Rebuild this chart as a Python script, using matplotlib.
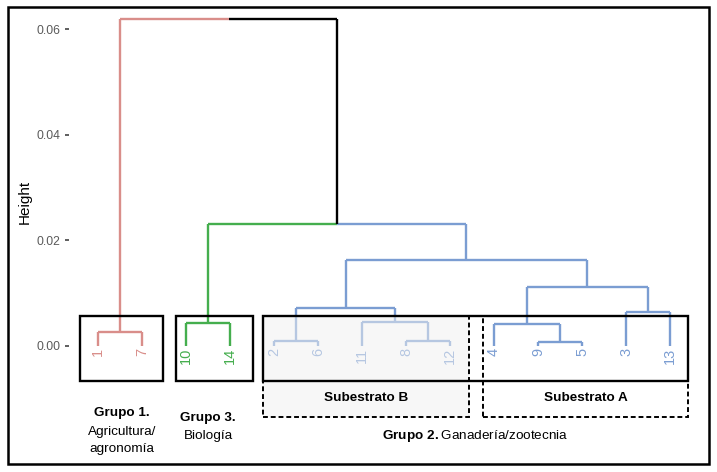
import numpy as np
import matplotlib
matplotlib.use("Agg")
import matplotlib.pyplot as plt
from matplotlib.patches import Rectangle

plt.rcParams['font.family'] = ['Liberation Sans', 'DejaVu Sans']
plt.rcParams['mathtext.fontset'] = 'custom'
plt.rcParams['mathtext.bf'] = 'Liberation Sans:bold'
plt.rcParams['mathtext.rm'] = 'Liberation Sans'

# leaves in dendrogram order
labels = ['1', '7', '10', '14', '2', '6', '11', '8', '12', '4', '9', '5', '3', '13']
# merges: (left node, right node, height); new node ids start at len(labels)
merge_left = [0, 2, 4, 7, 6, 16, 10, 9, 12, 21, 19, 15, 14]
merge_right = [1, 3, 5, 8, 17, 18, 11, 20, 13, 22, 23, 24, 25]
merge_height = [0.0025, 0.0043, 0.0008, 0.0008, 0.0045, 0.0072, 0.0006,
                0.0042, 0.0064, 0.0111, 0.0162, 0.0230, 0.0620]
# cluster of each leaf (k = 3)
leaf_cluster = [0, 0, 1, 1, 2, 2, 2, 2, 2, 2, 2, 2, 2, 2]
cluster_colors = ['#D98E8A', '#45AE4E', '#7B9DD2']

yticks = [0.00, 0.02, 0.04, 0.06]

n = len(labels)
xpos = {i: i + 1.0 for i in range(n)}
ypos = {i: 0.0 for i in range(n)}
members = {i: {leaf_cluster[i]} for i in range(n)}
for k in range(len(merge_height)):
    node = n + k
    a, b = merge_left[k], merge_right[k]
    xpos[node] = (xpos[a] + xpos[b]) / 2
    ypos[node] = merge_height[k]
    members[node] = members[a] | members[b]


def node_color(i):
    if len(members[i]) == 1:
        return cluster_colors[list(members[i])[0]]
    return 'black'


fig = plt.figure(figsize=(7.17, 4.72), dpi=100)
W, H = 717, 472
ax = fig.add_axes([69 / W, 1 - 372 / H, 630 / W, 360 / H])

lw = 1.7
for k in range(len(merge_height)):
    node = n + k
    for child in (merge_left[k], merge_right[k]):
        c = node_color(child)
        ax.plot([xpos[child], xpos[child]], [ypos[child], ypos[node]],
                color=c, lw=lw, solid_capstyle='butt', zorder=2)
        ax.plot([xpos[child], xpos[node]], [ypos[node], ypos[node]],
                color=c, lw=lw, solid_capstyle='butt', zorder=2)

for i in range(n):
    ax.text(xpos[i], -0.0004, labels[i], rotation=90, ha='center', va='top',
            fontsize=10.5, color=cluster_colors[leaf_cluster[i]], zorder=2)

ax.set_xlim(0.34, 14.66)
ax.set_ylim(-0.0050, 0.0633)
ax.set_xticks([])
ax.set_yticks(yticks)
ax.set_yticklabels(['0.00', '0.02', '0.04', '0.06'])
ax.tick_params(axis='y', length=3, width=1.1, color='#333333',
               labelcolor='#5a5a5a', labelsize=8.7, pad=3)
for s in ax.spines.values():
    s.set_visible(False)
ax.patch.set_alpha(0)

# group boxes
box_top = 0.0057
box_mid = -0.0067
box_bot = -0.0135

# subestrato B shading (fades the branches inside)
ax.add_patch(Rectangle((4.75, box_bot), 9.43 - 4.75, box_top - box_bot,
                       facecolor='#f1f1f1', alpha=0.5, edgecolor='none',
                       zorder=3, clip_on=False))
for x0, x1 in [(4.75, 9.43), (9.75, 14.41)]:
    ax.add_patch(Rectangle((x0, box_bot), x1 - x0, box_top - box_bot,
                           facecolor='none', edgecolor='black', lw=1.4,
                           ls=(0, (2.5, 1.5)), zorder=4, clip_on=False))
for x0, x1 in [(0.59, 2.48), (2.77, 4.52), (4.75, 14.41)]:
    ax.add_patch(Rectangle((x0, box_mid), x1 - x0, box_top - box_mid,
                           facecolor='none', edgecolor='black', lw=1.7,
                           zorder=5, clip_on=False))

fs = 9.7
ax.text(1.55, -0.0128, 'Grupo 1.', ha='center', va='center', fontsize=fs,
        fontweight='bold')
ax.text(1.55, -0.0163, 'Agricultura/', ha='center', va='center', fontsize=fs)
ax.text(1.55, -0.0197, 'agronomía', ha='center', va='center', fontsize=fs)
ax.text(3.5, -0.0137, 'Grupo 3.', ha='center', va='center', fontsize=fs,
        fontweight='bold')
ax.text(3.5, -0.0171, 'Biología', ha='center', va='center', fontsize=fs)
ax.text(7.09, -0.0100, 'Subestrato B', ha='center', va='center', fontsize=fs,
        fontweight='bold', zorder=6)
ax.text(12.08, -0.0100, 'Subestrato A', ha='center', va='center', fontsize=fs,
        fontweight='bold', zorder=6)
ax.text(9.58, -0.0171, r'$\mathbf{Grupo\ 2.}$Ganadería/zootecnia',
        ha='center', va='center', fontsize=fs)

fig.text(25 / W, 1 - 202 / H, 'Height', rotation=90, ha='center',
         va='center', fontsize=11)

# outer frame
fig.patches.append(Rectangle((8 / W, 1 - 464 / H), 701 / W, 457 / H,
                             transform=fig.transFigure, facecolor='none',
                             edgecolor='black', lw=1.8))

fig.savefig('out.png', dpi=100)
